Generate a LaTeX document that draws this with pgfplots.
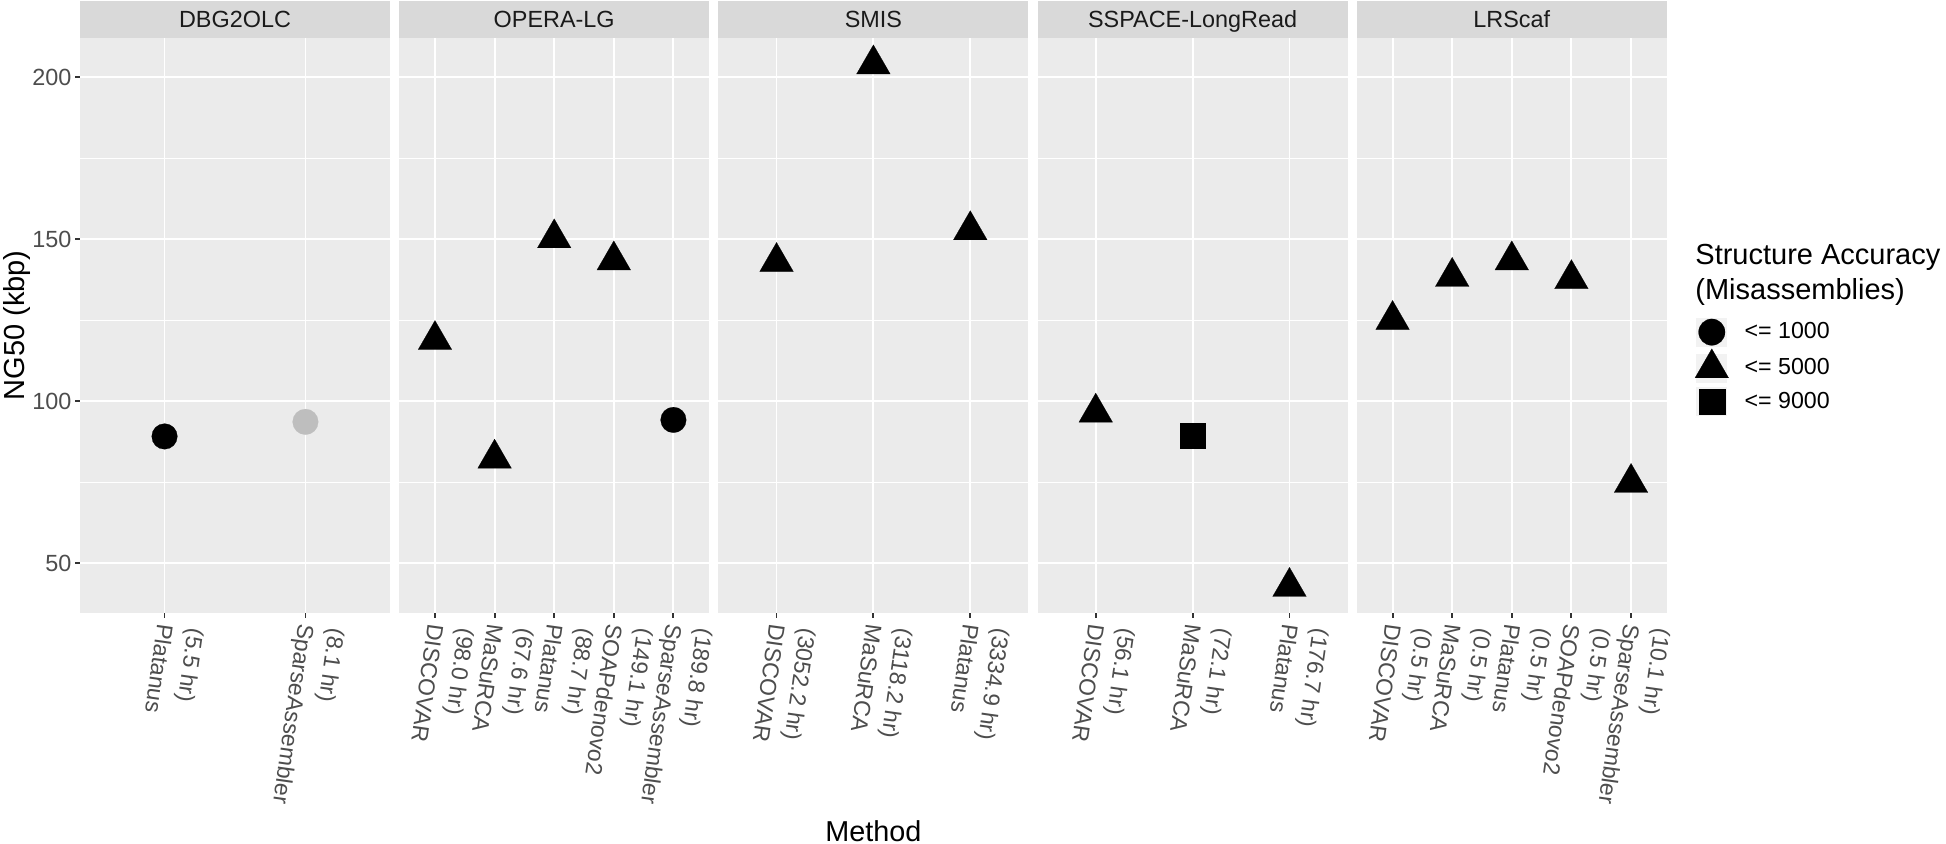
\documentclass[border=0pt]{standalone}
\usepackage{pgfplots}
\pgfplotsset{compat=1.18}
\usepackage{fontspec}
\setmainfont{Liberation Sans}
\definecolor{panelbg}{HTML}{EBEBEB}
\definecolor{stripbg}{HTML}{D9D9D9}
\definecolor{tickcol}{HTML}{333333}
\definecolor{ticklab}{HTML}{4D4D4D}
\definecolor{striptxt}{HTML}{1A1A1A}
\definecolor{keybg}{HTML}{F2F2F2}
\definecolor{greypt}{HTML}{BEBEBE}

\newcommand{\lab}[2]{\raisebox{-3.6pt}{\begin{tabular}[b]{@{}l@{}}(#1 hr)\\#2\end{tabular}}}

\pgfplotsset{
  facet/.style={
    scale only axis, width=155pt, height=287.5pt,
    anchor=south west,
    ymin=34.6, ymax=212.1,
    axis background/.style={fill=panelbg},
    axis line style={draw=none},
    ytick={50,100,150,200}, minor ytick={75,125,175},
    xmajorgrids, ymajorgrids, yminorgrids,
    major grid style={white, line width=0.95pt},
    minor grid style={white, line width=0.48pt},
    tick align=outside, major tick length=2.5pt, minor tick length=0pt,
    tick style={tickcol, line width=0.95pt},
    xtick pos=left, ytick pos=left,
    xticklabel style={font=\fontsize{11.5}{15.5}\selectfont, text=ticklab, rotate=-98, anchor=base west, inner sep=0pt},
    xticklabel shift=3pt,
    yticklabel style={font=\fontsize{11.7}{14}\selectfont, text=ticklab, anchor=east, inner sep=0pt},
    yticklabel shift=1.6pt,
    /pgf/number format/assume math mode=true,
    every axis title/.style={at={(0.5,1)}, anchor=south, fill=stripbg, minimum width=155pt, minimum height=18.5pt, inner sep=0pt, text height=8.4pt, text depth=0pt, text=striptxt, font=\fontsize{11.7}{14}\selectfont},
    every axis y label/.style={at={(axis description cs:-0.2032,0.5)}, rotate=90, anchor=center, font=\fontsize{14.5}{17}\selectfont},
    every axis x label/.style={at={(axis description cs:0.5,-0.3972)}, anchor=base, font=\fontsize{14.4}{17}\selectfont},
  },
  noy/.style={yticklabels={}, ytick style={draw=none}},
  tri/.style={only marks, mark=triangle*, mark size=9.7pt, mark options={fill=black, draw=black, line width=0.1pt}},
  circ/.style={only marks, mark=*, mark size=6.4pt, mark options={fill=black, draw=black, line width=0.1pt}},
  gcirc/.style={only marks, mark=*, mark size=6.4pt, mark options={fill=greypt, draw=greypt, line width=0.1pt}},
  sq/.style={only marks, mark=square*, mark size=6.4pt, mark options={fill=black, draw=black, line width=0.1pt}},
}

\begin{document}
\begin{tikzpicture}
\path[use as bounding box] (0,0) rectangle (973pt,422pt);

% DBG2OLC
\begin{axis}[facet, at={(40pt,115.5pt)}, title={DBG2OLC},
  xmin=0.4, xmax=2.6, xtick={1,2},
  xticklabels={{\lab{5.5}{Platanus}},{\lab{8.1}{SparseAssembler}}},
  ylabel={NG50 (kbp)}]
\addplot[circ] coordinates {(1,89.1)};
\addplot[gcirc] coordinates {(2,93.6)};
\end{axis}

% OPERA-LG
\begin{axis}[facet, noy, at={(199.6pt,115.5pt)}, title={OPERA-LG},
  xmin=0.4, xmax=5.6, xtick={1,2,3,4,5},
  xticklabels={{\lab{98.0}{DISCOVAR}},{\lab{67.6}{MaSuRCA}},{\lab{88.7}{Platanus}},{\lab{149.1}{SOAPdenovo2}},{\lab{189.8}{SparseAssembler}}}]
\addplot[tri] coordinates {(1,118.9) (2,82.3) (3,150.3) (4,143.5)};
\addplot[circ] coordinates {(5,94.2)};
\end{axis}

% SMIS
\begin{axis}[facet, noy, at={(359.2pt,115.5pt)}, title={SMIS},
  xmin=0.4, xmax=3.6, xtick={1,2,3},
  xticklabels={{\lab{3052.2}{DISCOVAR}},{\lab{3118.2}{MaSuRCA}},{\lab{3334.9}{Platanus}}},
  xlabel={Method}]
\addplot[tri] coordinates {(1,143.0) (2,204.0) (3,152.8)};
\end{axis}

% SSPACE-LongRead
\begin{axis}[facet, noy, at={(518.8pt,115.5pt)}, title={SSPACE-LongRead},
  xmin=0.4, xmax=3.6, xtick={1,2,3},
  xticklabels={{\lab{56.1}{DISCOVAR}},{\lab{72.1}{MaSuRCA}},{\lab{176.7}{Platanus}}}]
\addplot[tri] coordinates {(1,96.5) (3,42.7)};
\addplot[sq] coordinates {(2,89.3)};
\end{axis}

% LRScaf
\begin{axis}[facet, noy, at={(678.4pt,115.5pt)}, title={LRScaf}, clip mode=individual,
  xmin=0.4, xmax=5.6, xtick={1,2,3,4,5},
  xticklabels={{\lab{0.5}{DISCOVAR}},{\lab{0.5}{MaSuRCA}},{\lab{0.5}{Platanus}},{\lab{0.5}{SOAPdenovo2}},{\lab{10.1}{SparseAssembler}}},
  legend style={at={(axis description cs:1.091,0.5174)}, anchor=north west, draw=none, fill=none, inner sep=0pt, outer sep=0pt, row sep=0pt, column sep=8pt, font=\fontsize{11.6}{14}\selectfont, nodes={inner sep=0pt}},
  legend cell align=left]
\addlegendimage{legend image code/.code={\path (0pt,-8.125pt) (15.5pt,8.125pt); \fill[keybg, draw=none] (0pt,-7.25pt) rectangle (15.5pt,7.25pt); \draw[only marks, mark=*, mark size=6.6pt, mark options={fill=black,draw=black,line width=0.1pt}] plot coordinates {(7.75pt,0pt)};}}
\addlegendentry{<= 1000}
\addlegendimage{legend image code/.code={\path (0pt,-8.125pt) (15.5pt,8.125pt); \fill[keybg, draw=none] (0pt,-7.25pt) rectangle (15.5pt,7.25pt); \draw[only marks, mark=triangle*, mark size=9.7pt, mark options={fill=black,draw=black,line width=0.1pt}] plot coordinates {(7.75pt,0pt)};}}
\addlegendentry{<= 5000}
\addlegendimage{legend image code/.code={\path (0pt,-8.125pt) (15.5pt,8.125pt); \fill[keybg, draw=none] (0pt,-7.25pt) rectangle (15.5pt,7.25pt); \draw[only marks, mark=square*, mark size=6.4pt, mark options={fill=black,draw=black,line width=0.1pt}] plot coordinates {(7.75pt,0pt)};}}
\addlegendentry{<= 9000}
\addplot[tri, forget plot] coordinates {(1,125.1) (2,138.4) (3,143.5) (4,137.7) (5,74.8)};
\node[anchor=base west, inner sep=0pt, font=\fontsize{14.5}{17}\selectfont] at (axis description cs:1.091,0.6064) {Structure Accuracy};
\node[anchor=base west, inner sep=0pt, font=\fontsize{14.5}{17}\selectfont] at (axis description cs:1.091,0.5456) {(Misassemblies)};
\end{axis}
\end{tikzpicture}
\end{document}
